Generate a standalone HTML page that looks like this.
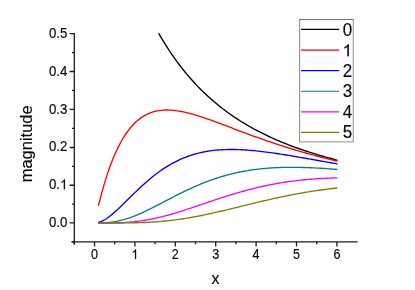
<!DOCTYPE html>
<html>
<head>
<meta charset="utf-8">
<title>magnitude vs x</title>
<style>
html,body{margin:0;padding:0;background:#ffffff;}
body{width:415px;height:290px;overflow:hidden;font-family:"Liberation Sans",sans-serif;}
svg{position:absolute;left:0;top:0;will-change:transform;}
</style>
</head>
<body>
<svg width="415" height="290" viewBox="0 0 415 290" style="display:block;font-family:'Liberation Sans',sans-serif" fill="#0a0a0a">
<rect x="0" y="0" width="415" height="290" fill="#ffffff"/>
<path d="M158.88,33.67 L159.14,34.12 L161.16,37.58 L163.18,40.95 L165.20,44.22 L167.22,47.41 L169.24,50.50 L171.26,53.52 L173.28,56.44 L175.30,59.30 L177.32,62.07 L179.34,64.77 L181.36,67.40 L183.38,69.96 L185.40,72.45 L187.42,74.87 L189.44,77.24 L191.46,79.54 L193.48,81.79 L195.50,83.97 L197.52,86.10 L199.54,88.18 L201.56,90.21 L203.58,92.19 L205.60,94.11 L207.62,95.99 L209.64,97.83 L211.66,99.62 L213.68,101.36 L215.70,103.07 L217.72,104.73 L219.74,106.36 L221.76,107.95 L223.78,109.50 L225.80,111.01 L227.82,112.49 L229.84,113.94 L231.86,115.35 L233.88,116.73 L235.90,118.09 L237.92,119.41 L239.94,120.70 L241.96,121.96 L243.98,123.20 L246.00,124.41 L248.02,125.59 L250.04,126.75 L252.06,127.88 L254.08,128.99 L256.10,130.08 L258.12,131.14 L260.14,132.18 L262.16,133.20 L264.18,134.20 L266.20,135.18 L268.22,136.14 L270.24,137.08 L272.26,138.01 L274.28,138.91 L276.30,139.80 L278.32,140.67 L280.34,141.52 L282.36,142.36 L284.38,143.18 L286.40,143.98 L288.42,144.77 L290.44,145.55 L292.46,146.31 L294.48,147.05 L296.50,147.79 L298.52,148.51 L300.54,149.22 L302.56,149.91 L304.58,150.59 L306.60,151.26 L308.62,151.92 L310.64,152.57 L312.66,153.20 L314.68,153.83 L316.70,154.44 L318.72,155.05 L320.74,155.64 L322.76,156.23 L324.78,156.80 L326.80,157.37 L328.82,157.92 L330.84,158.47 L332.86,159.01 L334.88,159.54 L336.90,160.06" fill="none" stroke="#000000" stroke-width="1.35" stroke-linejoin="round" stroke-linecap="round"/>
<path d="M98.54,205.30 L100.56,197.30 L102.58,189.84 L104.60,182.88 L106.62,176.39 L108.64,170.35 L110.66,164.74 L112.68,159.53 L114.70,154.70 L116.72,150.22 L118.74,146.08 L120.76,142.25 L122.78,138.73 L124.80,135.48 L126.82,132.50 L128.84,129.78 L130.86,127.28 L132.88,125.01 L134.90,122.95 L136.92,121.08 L138.94,119.40 L140.96,117.89 L142.98,116.55 L145.00,115.36 L147.02,114.31 L149.04,113.40 L151.06,112.61 L153.08,111.94 L155.10,111.38 L157.12,110.93 L159.14,110.58 L161.16,110.31 L163.18,110.13 L165.20,110.03 L167.22,110.01 L169.24,110.05 L171.26,110.16 L173.28,110.32 L175.30,110.55 L177.32,110.82 L179.34,111.14 L181.36,111.51 L183.38,111.92 L185.40,112.36 L187.42,112.84 L189.44,113.35 L191.46,113.90 L193.48,114.46 L195.50,115.06 L197.52,115.67 L199.54,116.31 L201.56,116.96 L203.58,117.64 L205.60,118.32 L207.62,119.02 L209.64,119.73 L211.66,120.45 L213.68,121.19 L215.70,121.92 L217.72,122.67 L219.74,123.42 L221.76,124.18 L223.78,124.93 L225.80,125.70 L227.82,126.46 L229.84,127.23 L231.86,127.99 L233.88,128.76 L235.90,129.52 L237.92,130.28 L239.94,131.05 L241.96,131.80 L243.98,132.56 L246.00,133.31 L248.02,134.06 L250.04,134.81 L252.06,135.55 L254.08,136.28 L256.10,137.01 L258.12,137.74 L260.14,138.46 L262.16,139.17 L264.18,139.88 L266.20,140.58 L268.22,141.28 L270.24,141.97 L272.26,142.66 L274.28,143.33 L276.30,144.00 L278.32,144.67 L280.34,145.33 L282.36,145.98 L284.38,146.62 L286.40,147.26 L288.42,147.89 L290.44,148.51 L292.46,149.13 L294.48,149.74 L296.50,150.34 L298.52,150.93 L300.54,151.52 L302.56,152.11 L304.58,152.68 L306.60,153.25 L308.62,153.81 L310.64,154.37 L312.66,154.91 L314.68,155.46 L316.70,155.99 L318.72,156.52 L320.74,157.04 L322.76,157.56 L324.78,158.07 L326.80,158.57 L328.82,159.07 L330.84,159.56 L332.86,160.04 L334.88,160.52 L336.90,161.00" fill="none" stroke="#ff0000" stroke-width="1.35" stroke-linejoin="round" stroke-linecap="round"/>
<path d="M98.54,222.43 L100.56,221.75 L102.58,220.84 L104.60,219.74 L106.62,218.47 L108.64,217.05 L110.66,215.51 L112.68,213.86 L114.70,212.12 L116.72,210.30 L118.74,208.43 L120.76,206.50 L122.78,204.55 L124.80,202.56 L126.82,200.57 L128.84,198.57 L130.86,196.57 L132.88,194.58 L134.90,192.61 L136.92,190.66 L138.94,188.73 L140.96,186.84 L142.98,184.98 L145.00,183.17 L147.02,181.39 L149.04,179.66 L151.06,177.98 L153.08,176.34 L155.10,174.76 L157.12,173.22 L159.14,171.74 L161.16,170.31 L163.18,168.93 L165.20,167.61 L167.22,166.34 L169.24,165.13 L171.26,163.96 L173.28,162.85 L175.30,161.80 L177.32,160.79 L179.34,159.83 L181.36,158.93 L183.38,158.07 L185.40,157.26 L187.42,156.50 L189.44,155.79 L191.46,155.12 L193.48,154.50 L195.50,153.91 L197.52,153.37 L199.54,152.87 L201.56,152.41 L203.58,151.99 L205.60,151.61 L207.62,151.26 L209.64,150.95 L211.66,150.67 L213.68,150.42 L215.70,150.20 L217.72,150.02 L219.74,149.86 L221.76,149.73 L223.78,149.63 L225.80,149.56 L227.82,149.51 L229.84,149.48 L231.86,149.48 L233.88,149.49 L235.90,149.53 L237.92,149.59 L239.94,149.67 L241.96,149.77 L243.98,149.88 L246.00,150.01 L248.02,150.16 L250.04,150.32 L252.06,150.49 L254.08,150.68 L256.10,150.88 L258.12,151.10 L260.14,151.32 L262.16,151.56 L264.18,151.81 L266.20,152.06 L268.22,152.33 L270.24,152.60 L272.26,152.88 L274.28,153.17 L276.30,153.47 L278.32,153.77 L280.34,154.08 L282.36,154.39 L284.38,154.71 L286.40,155.04 L288.42,155.37 L290.44,155.70 L292.46,156.04 L294.48,156.38 L296.50,156.72 L298.52,157.06 L300.54,157.41 L302.56,157.76 L304.58,158.11 L306.60,158.47 L308.62,158.82 L310.64,159.18 L312.66,159.53 L314.68,159.89 L316.70,160.25 L318.72,160.61 L320.74,160.96 L322.76,161.32 L324.78,161.68 L326.80,162.04 L328.82,162.39 L330.84,162.75 L332.86,163.10 L334.88,163.46 L336.90,163.81" fill="none" stroke="#0000ff" stroke-width="1.35" stroke-linejoin="round" stroke-linecap="round"/>
<path d="M98.54,223.00 L100.56,222.97 L102.58,222.91 L104.60,222.81 L106.62,222.68 L108.64,222.50 L110.66,222.28 L112.68,222.01 L114.70,221.69 L116.72,221.32 L118.74,220.90 L120.76,220.42 L122.78,219.90 L124.80,219.33 L126.82,218.72 L128.84,218.06 L130.86,217.35 L132.88,216.61 L134.90,215.82 L136.92,215.01 L138.94,214.15 L140.96,213.27 L142.98,212.36 L145.00,211.42 L147.02,210.46 L149.04,209.48 L151.06,208.48 L153.08,207.47 L155.10,206.44 L157.12,205.41 L159.14,204.36 L161.16,203.31 L163.18,202.26 L165.20,201.20 L167.22,200.14 L169.24,199.09 L171.26,198.04 L173.28,197.00 L175.30,195.96 L177.32,194.94 L179.34,193.92 L181.36,192.91 L183.38,191.92 L185.40,190.94 L187.42,189.98 L189.44,189.03 L191.46,188.10 L193.48,187.19 L195.50,186.29 L197.52,185.42 L199.54,184.56 L201.56,183.73 L203.58,182.92 L205.60,182.12 L207.62,181.35 L209.64,180.60 L211.66,179.87 L213.68,179.17 L215.70,178.49 L217.72,177.82 L219.74,177.19 L221.76,176.57 L223.78,175.98 L225.80,175.41 L227.82,174.86 L229.84,174.33 L231.86,173.83 L233.88,173.34 L235.90,172.88 L237.92,172.44 L239.94,172.02 L241.96,171.62 L243.98,171.24 L246.00,170.88 L248.02,170.55 L250.04,170.23 L252.06,169.93 L254.08,169.64 L256.10,169.38 L258.12,169.14 L260.14,168.91 L262.16,168.70 L264.18,168.50 L266.20,168.32 L268.22,168.16 L270.24,168.02 L272.26,167.89 L274.28,167.77 L276.30,167.67 L278.32,167.58 L280.34,167.50 L282.36,167.44 L284.38,167.39 L286.40,167.36 L288.42,167.33 L290.44,167.32 L292.46,167.32 L294.48,167.33 L296.50,167.35 L298.52,167.38 L300.54,167.42 L302.56,167.47 L304.58,167.53 L306.60,167.59 L308.62,167.67 L310.64,167.75 L312.66,167.85 L314.68,167.94 L316.70,168.05 L318.72,168.16 L320.74,168.28 L322.76,168.41 L324.78,168.54 L326.80,168.68 L328.82,168.82 L330.84,168.97 L332.86,169.12 L334.88,169.28 L336.90,169.44" fill="none" stroke="#008080" stroke-width="1.35" stroke-linejoin="round" stroke-linecap="round"/>
<path d="M98.54,223.02 L100.56,223.01 L102.58,223.01 L104.60,223.01 L106.62,223.00 L108.64,222.98 L110.66,222.96 L112.68,222.93 L114.70,222.89 L116.72,222.83 L118.74,222.77 L120.76,222.69 L122.78,222.59 L124.80,222.48 L126.82,222.35 L128.84,222.20 L130.86,222.03 L132.88,221.84 L134.90,221.63 L136.92,221.40 L138.94,221.14 L140.96,220.87 L142.98,220.57 L145.00,220.25 L147.02,219.91 L149.04,219.55 L151.06,219.16 L153.08,218.75 L155.10,218.33 L157.12,217.88 L159.14,217.41 L161.16,216.92 L163.18,216.42 L165.20,215.90 L167.22,215.36 L169.24,214.80 L171.26,214.23 L173.28,213.64 L175.30,213.05 L177.32,212.43 L179.34,211.81 L181.36,211.18 L183.38,210.54 L185.40,209.89 L187.42,209.23 L189.44,208.56 L191.46,207.89 L193.48,207.21 L195.50,206.53 L197.52,205.85 L199.54,205.16 L201.56,204.48 L203.58,203.79 L205.60,203.10 L207.62,202.41 L209.64,201.73 L211.66,201.05 L213.68,200.37 L215.70,199.70 L217.72,199.03 L219.74,198.36 L221.76,197.70 L223.78,197.05 L225.80,196.41 L227.82,195.77 L229.84,195.14 L231.86,194.52 L233.88,193.91 L235.90,193.31 L237.92,192.72 L239.94,192.14 L241.96,191.56 L243.98,191.00 L246.00,190.45 L248.02,189.91 L250.04,189.39 L252.06,188.87 L254.08,188.37 L256.10,187.88 L258.12,187.40 L260.14,186.93 L262.16,186.47 L264.18,186.03 L266.20,185.60 L268.22,185.18 L270.24,184.78 L272.26,184.39 L274.28,184.01 L276.30,183.64 L278.32,183.29 L280.34,182.94 L282.36,182.61 L284.38,182.29 L286.40,181.99 L288.42,181.70 L290.44,181.41 L292.46,181.14 L294.48,180.89 L296.50,180.64 L298.52,180.40 L300.54,180.18 L302.56,179.97 L304.58,179.77 L306.60,179.58 L308.62,179.40 L310.64,179.23 L312.66,179.07 L314.68,178.92 L316.70,178.78 L318.72,178.65 L320.74,178.53 L322.76,178.42 L324.78,178.32 L326.80,178.23 L328.82,178.14 L330.84,178.07 L332.86,178.00 L334.88,177.94 L336.90,177.89" fill="none" stroke="#ff00ff" stroke-width="1.35" stroke-linejoin="round" stroke-linecap="round"/>
<path d="M98.54,223.02 L100.56,223.02 L102.58,223.02 L104.60,223.02 L106.62,223.01 L108.64,223.01 L110.66,223.01 L112.68,223.01 L114.70,223.00 L116.72,223.00 L118.74,222.99 L120.76,222.98 L122.78,222.97 L124.80,222.95 L126.82,222.93 L128.84,222.90 L130.86,222.87 L132.88,222.83 L134.90,222.79 L136.92,222.74 L138.94,222.68 L140.96,222.62 L142.98,222.54 L145.00,222.46 L147.02,222.37 L149.04,222.26 L151.06,222.15 L153.08,222.03 L155.10,221.89 L157.12,221.74 L159.14,221.59 L161.16,221.42 L163.18,221.23 L165.20,221.04 L167.22,220.83 L169.24,220.61 L171.26,220.38 L173.28,220.14 L175.30,219.88 L177.32,219.61 L179.34,219.33 L181.36,219.03 L183.38,218.73 L185.40,218.41 L187.42,218.08 L189.44,217.74 L191.46,217.39 L193.48,217.02 L195.50,216.65 L197.52,216.27 L199.54,215.87 L201.56,215.47 L203.58,215.06 L205.60,214.64 L207.62,214.21 L209.64,213.77 L211.66,213.33 L213.68,212.88 L215.70,212.42 L217.72,211.96 L219.74,211.49 L221.76,211.02 L223.78,210.54 L225.80,210.06 L227.82,209.58 L229.84,209.09 L231.86,208.60 L233.88,208.10 L235.90,207.61 L237.92,207.11 L239.94,206.62 L241.96,206.12 L243.98,205.63 L246.00,205.13 L248.02,204.63 L250.04,204.14 L252.06,203.65 L254.08,203.16 L256.10,202.67 L258.12,202.19 L260.14,201.71 L262.16,201.23 L264.18,200.76 L266.20,200.29 L268.22,199.82 L270.24,199.36 L272.26,198.91 L274.28,198.46 L276.30,198.02 L278.32,197.58 L280.34,197.15 L282.36,196.72 L284.38,196.30 L286.40,195.89 L288.42,195.48 L290.44,195.08 L292.46,194.69 L294.48,194.31 L296.50,193.93 L298.52,193.56 L300.54,193.20 L302.56,192.84 L304.58,192.50 L306.60,192.16 L308.62,191.83 L310.64,191.50 L312.66,191.19 L314.68,190.88 L316.70,190.58 L318.72,190.29 L320.74,190.01 L322.76,189.73 L324.78,189.46 L326.80,189.20 L328.82,188.95 L330.84,188.71 L332.86,188.48 L334.88,188.25 L336.90,188.03" fill="none" stroke="#808000" stroke-width="1.35" stroke-linejoin="round" stroke-linecap="round"/>
<path d="M74.30,33.07 V244.85" stroke="#1c1c1c" stroke-width="1.3" fill="none"/>
<path d="M71.30,241.85 H357.60" stroke="#1c1c1c" stroke-width="1.3" fill="none"/>
<path d="M74.30,241.85 v2.3 M94.50,241.85 v4.7 M114.70,241.85 v2.3 M134.90,241.85 v4.7 M155.10,241.85 v2.3 M175.30,241.85 v4.7 M195.50,241.85 v2.3 M215.70,241.85 v4.7 M235.90,241.85 v2.3 M256.10,241.85 v4.7 M276.30,241.85 v2.3 M296.50,241.85 v4.7 M316.70,241.85 v2.3 M336.90,241.85 v4.7 M74.30,241.85 h-2.3 M74.30,222.87 h-4.7 M74.30,204.06 h-2.3 M74.30,185.25 h-4.7 M74.30,166.38 h-2.3 M74.30,147.50 h-4.7 M74.30,128.44 h-2.3 M74.30,109.39 h-4.7 M74.30,90.44 h-2.3 M74.30,71.49 h-4.7 M74.30,52.53 h-2.3 M74.30,33.57 h-4.7" stroke="#1c1c1c" stroke-width="1.3" fill="none"/>
<g stroke="#0a0a0a" stroke-width="0.15" stroke-linejoin="round">
<text transform="translate(94.50,259.1) scale(0.97,1.14)" text-anchor="middle" font-size="13">0</text>
<path d="M763 0H583V1147Q518 1085 412.5 1023T223 930V1104Q374 1175 487 1276T647 1472H763Z" transform="translate(131.39,259.10) scale(0.006157,-0.006729)" fill="#0a0a0a" stroke="#0a0a0a" stroke-width="23.6" stroke-linejoin="round"/>
<text transform="translate(175.30,259.1) scale(0.97,1.14)" text-anchor="middle" font-size="13">2</text>
<text transform="translate(215.70,259.1) scale(0.97,1.14)" text-anchor="middle" font-size="13">3</text>
<text transform="translate(256.10,259.1) scale(0.97,1.14)" text-anchor="middle" font-size="13">4</text>
<text transform="translate(296.50,259.1) scale(0.97,1.14)" text-anchor="middle" font-size="13">5</text>
<text transform="translate(336.90,259.1) scale(0.97,1.14)" text-anchor="middle" font-size="13">6</text>
<text transform="translate(67.4,227.03) scale(1.02,1.11)" text-anchor="end" font-size="13">0.0</text>
<text transform="translate(60.02,189.25) scale(1.02,1.11)" text-anchor="end" font-size="13">0.</text>
<path d="M763 0H583V1147Q518 1085 412.5 1023T223 930V1104Q374 1175 487 1276T647 1472H763Z" transform="translate(60.02,189.25) scale(0.006475,-0.006729)" fill="#0a0a0a" stroke="#0a0a0a" stroke-width="23.6" stroke-linejoin="round"/>
<text transform="translate(67.4,151.47) scale(1.02,1.11)" text-anchor="end" font-size="13">0.2</text>
<text transform="translate(67.4,113.69) scale(1.02,1.11)" text-anchor="end" font-size="13">0.3</text>
<text transform="translate(67.4,75.91) scale(1.02,1.11)" text-anchor="end" font-size="13">0.4</text>
<text transform="translate(67.4,38.13) scale(1.02,1.11)" text-anchor="end" font-size="13">0.5</text>
<text x="215.6" y="283.6" text-anchor="middle" font-size="16">x</text>
<text transform="translate(31.5,105.3) rotate(-90)" text-anchor="end" font-size="16.5">magnitude</text>
</g>
<rect x="299.6" y="19.5" width="53.7" height="122.45" fill="#ffffff"/>
<path d="M299.6,19.5 H353.3" stroke="#747474" stroke-width="1.1" fill="none" stroke-linecap="square"/>
<path d="M299.6,19.5 V141.95" stroke="#909090" stroke-width="1.1" fill="none"/>
<path d="M353.3,19.5 V141.95" stroke="#a2a2a2" stroke-width="1.2" fill="none"/>
<path d="M299.6,141.95 H353.3" stroke="#a8a8a8" stroke-width="1.3" fill="none" stroke-linecap="round"/>
<path d="M301,29.45 H339.3" stroke="#000000" stroke-width="1.2" fill="none"/>
<text transform="translate(347.55,35.90) scale(1,1.05)" text-anchor="middle" font-size="17" stroke="#0a0a0a" stroke-width="0.15">0</text>
<path d="M301,50.05 H339.3" stroke="#ff0000" stroke-width="1.2" fill="none"/>
<path d="M763 0H583V1147Q518 1085 412.5 1023T223 930V1104Q374 1175 487 1276T647 1472H763Z" transform="translate(342.52,56.15) scale(0.008301,-0.008135)" fill="#0a0a0a" stroke="#0a0a0a" stroke-width="18.1" stroke-linejoin="round"/>
<path d="M301,70.65 H339.3" stroke="#0000ff" stroke-width="1.2" fill="none"/>
<text transform="translate(347.55,76.80) scale(1,1.05)" text-anchor="middle" font-size="17" stroke="#0a0a0a" stroke-width="0.15">2</text>
<path d="M301,91.25 H339.3" stroke="#008080" stroke-width="1.2" fill="none"/>
<text transform="translate(347.55,97.25) scale(1,1.05)" text-anchor="middle" font-size="17" stroke="#0a0a0a" stroke-width="0.15">3</text>
<path d="M301,111.85 H339.3" stroke="#ff00ff" stroke-width="1.2" fill="none"/>
<text transform="translate(347.55,117.70) scale(1,1.05)" text-anchor="middle" font-size="17" stroke="#0a0a0a" stroke-width="0.15">4</text>
<path d="M301,132.45 H339.3" stroke="#808000" stroke-width="1.2" fill="none"/>
<text transform="translate(347.55,138.15) scale(1,1.05)" text-anchor="middle" font-size="17" stroke="#0a0a0a" stroke-width="0.15">5</text>
</svg>
</body>
</html>
